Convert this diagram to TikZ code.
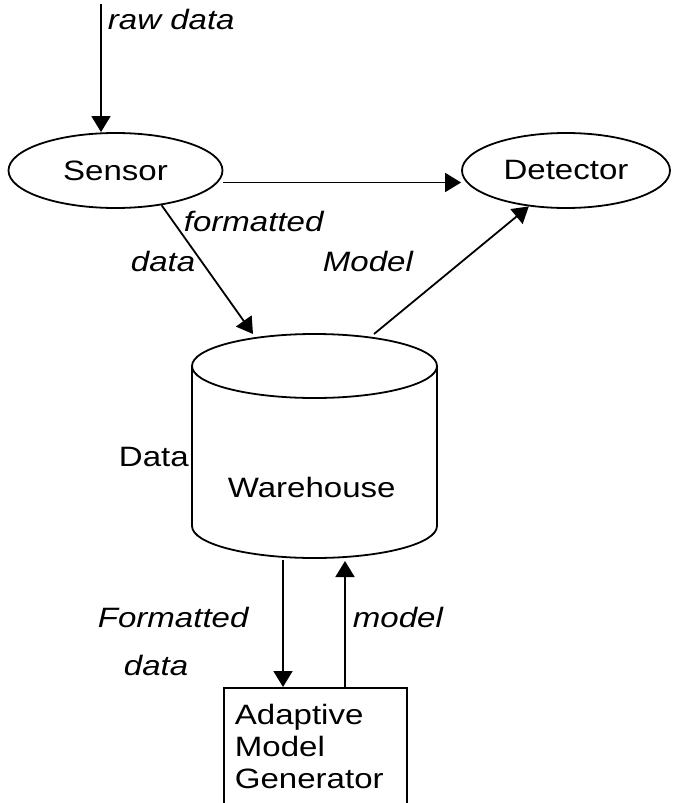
\documentclass[tikz,border=0pt]{standalone}
\usepackage{fontspec}
\setmainfont{Liberation Sans}
\usepackage{graphicx}
\usetikzlibrary{shapes.geometric,arrows.meta}
\newcommand{\sx}[1]{\scalebox{1.18}[1]{#1}}
\begin{document}
\begin{tikzpicture}[x=1pt,y=-1pt,line width=1.8pt,
		font=\fontsize{28}{32}\selectfont,
		arr/.style={-{Triangle[length=16pt,width=19pt]}},
		lbl/.style={inner sep=0pt,anchor=base west},
		oval/.style={ellipse,draw,inner sep=0pt,minimum height=75pt}]
			\useasboundingbox (0,0) rectangle (675,803);
			\clip (0,0) rectangle (675,803);
			\node[oval,minimum width=214pt] (sensor) at (115.5,170.5) {\sx{Sensor}};
			\node[oval,minimum width=208pt] (detector) at (566,170.5) {\sx{Detector}};
			% the warehouse drum
			\coordinate (whtop) at (314.5,366);
			\coordinate (whin) at (253,334);
			\coordinate (whout) at (374,334);
			\coordinate (whdn) at (283,560);
			\coordinate (whup) at (345,561);
			\draw (192,366) -- (192,526) arc[start angle=180,end angle=360,x radius=122.5pt,y radius=32pt] -- (437,366);
			\draw (whtop) ellipse [x radius=122.5pt,y radius=32pt];
			\node[draw,anchor=north west,minimum width=183pt,minimum height=140pt] (amg) at (223,687) {};
			\node[inner sep=0pt,anchor=north west,align=left] (amgtext) at (234,703) {\sx{Adaptive}\\\sx{Model}\\\sx{Generator}};
			\coordinate (raw) at (101,4);
			\draw[arr] (raw) -- (raw |- sensor.north);
			\draw[arr] ([yshift=-12pt]sensor.east) -- ([yshift=-12pt]detector.west);
			\draw[arr] (sensor.-37) -- (whin);
			\draw[arr] (whout) -- (detector.224);
			\draw[arr] (whdn) -- (whdn |- amg.north);
			\draw[arr] (whup |- amg.north) -- (whup);
			% labels
			\node[lbl] (rawlbl) at (107,29) {\sx{\itshape raw data}};
			\node[lbl] (fmtlbl) at (183,231) {\sx{\itshape formatted}};
			\node[lbl] (datalbl) at (130,271) {\sx{\itshape data}};
			\node[lbl] (modellbl) at (322,271) {\sx{\itshape Model}};
			\node[lbl] (whlbla) at (118,466) {\sx{Data}};
			\node[lbl] (whlblb) at (227,497) {\sx{Warehouse}};
			\node[lbl] (fmtlblb) at (97,627) {\sx{\itshape Formatted}};
			\node[lbl] (datalblb) at (123,675) {\sx{\itshape data}};
			\node[lbl] (modellblb) at (352,627) {\sx{\itshape model}};
		\end{tikzpicture}
\end{document}
